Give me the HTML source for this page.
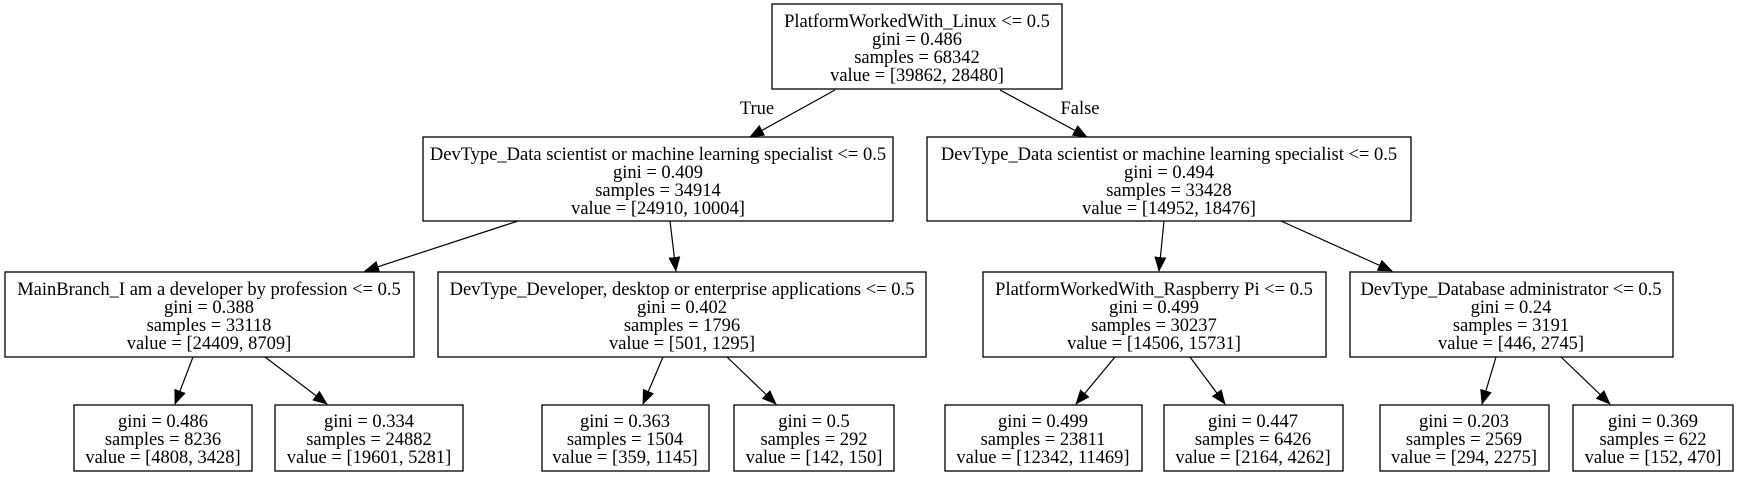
<!DOCTYPE html>
<html><head><meta charset="utf-8"><style>
html,body{margin:0;padding:0;background:#fff;}
svg{display:block}
text{font-family:"Liberation Serif",serif;font-size:18.5px;fill:#000;text-anchor:middle}
rect{fill:#fff;stroke:#000;stroke-width:1.3}
line{stroke:#000;stroke-width:1.2}
polygon{fill:#000}
</style></head><body>
<svg width="1739" height="477" viewBox="0 0 1739 477" xmlns="http://www.w3.org/2000/svg">
<defs><marker id="a" markerWidth="15" markerHeight="12" refX="14" refY="6" orient="auto" markerUnits="userSpaceOnUse"><polygon points="0,0 15,6 0,12"/></marker></defs>
<line x1="835" y1="90" x2="750" y2="137" marker-end="url(#a)"/>
<line x1="1000" y1="90" x2="1087" y2="137" marker-end="url(#a)"/>
<line x1="518" y1="221" x2="365" y2="271" marker-end="url(#a)"/>
<line x1="670" y1="221" x2="676" y2="271" marker-end="url(#a)"/>
<line x1="1164" y1="221" x2="1159" y2="271" marker-end="url(#a)"/>
<line x1="1281" y1="221" x2="1392" y2="271" marker-end="url(#a)"/>
<line x1="193" y1="357" x2="175" y2="404" marker-end="url(#a)"/>
<line x1="265" y1="357" x2="327" y2="404" marker-end="url(#a)"/>
<line x1="663" y1="357" x2="643" y2="404" marker-end="url(#a)"/>
<line x1="727" y1="357" x2="776" y2="404" marker-end="url(#a)"/>
<line x1="1115" y1="357" x2="1076" y2="404" marker-end="url(#a)"/>
<line x1="1190" y1="357" x2="1225" y2="404" marker-end="url(#a)"/>
<line x1="1496" y1="357" x2="1482" y2="404" marker-end="url(#a)"/>
<line x1="1561" y1="357" x2="1610" y2="404" marker-end="url(#a)"/>
<text x="757" y="114">True</text>
<text x="1080" y="114">False</text>
<rect x="772" y="4" width="290" height="85"/>
<text x="917" y="27">PlatformWorkedWith_Linux &lt;= 0.5</text>
<text x="917" y="45">gini = 0.486</text>
<text x="917" y="63">samples = 68342</text>
<text x="917" y="81">value = [39862, 28480]</text>
<rect x="423" y="137" width="470" height="84"/>
<text x="658" y="160">DevType_Data scientist or machine learning specialist &lt;= 0.5</text>
<text x="658" y="178">gini = 0.409</text>
<text x="658" y="196">samples = 34914</text>
<text x="658" y="214">value = [24910, 10004]</text>
<rect x="927" y="137" width="484" height="84"/>
<text x="1169" y="160">DevType_Data scientist or machine learning specialist &lt;= 0.5</text>
<text x="1169" y="178">gini = 0.494</text>
<text x="1169" y="196">samples = 33428</text>
<text x="1169" y="214">value = [14952, 18476]</text>
<rect x="5" y="272" width="409" height="85"/>
<text x="209" y="295">MainBranch_I am a developer by profession &lt;= 0.5</text>
<text x="209" y="313">gini = 0.388</text>
<text x="209" y="331">samples = 33118</text>
<text x="209" y="349">value = [24409, 8709]</text>
<rect x="438" y="272" width="488" height="85"/>
<text x="682" y="295">DevType_Developer, desktop or enterprise applications &lt;= 0.5</text>
<text x="682" y="313">gini = 0.402</text>
<text x="682" y="331">samples = 1796</text>
<text x="682" y="349">value = [501, 1295]</text>
<rect x="983" y="272" width="343" height="85"/>
<text x="1154" y="295">PlatformWorkedWith_Raspberry Pi &lt;= 0.5</text>
<text x="1154" y="313">gini = 0.499</text>
<text x="1154" y="331">samples = 30237</text>
<text x="1154" y="349">value = [14506, 15731]</text>
<rect x="1350" y="272" width="323" height="85"/>
<text x="1511" y="295">DevType_Database administrator &lt;= 0.5</text>
<text x="1511" y="313">gini = 0.24</text>
<text x="1511" y="331">samples = 3191</text>
<text x="1511" y="349">value = [446, 2745]</text>
<rect x="74" y="405" width="178" height="66"/>
<text x="163" y="427">gini = 0.486</text><text x="163" y="445">samples = 8236</text><text x="163" y="463">value = [4808, 3428]</text>
<rect x="275" y="405" width="188" height="66"/>
<text x="369" y="427">gini = 0.334</text><text x="369" y="445">samples = 24882</text><text x="369" y="463">value = [19601, 5281]</text>
<rect x="542" y="405" width="167" height="66"/>
<text x="625" y="427">gini = 0.363</text><text x="625" y="445">samples = 1504</text><text x="625" y="463">value = [359, 1145]</text>
<rect x="734" y="405" width="160" height="66"/>
<text x="814" y="427">gini = 0.5</text><text x="814" y="445">samples = 292</text><text x="814" y="463">value = [142, 150]</text>
<rect x="945" y="405" width="197" height="66"/>
<text x="1043" y="427">gini = 0.499</text><text x="1043" y="445">samples = 23811</text><text x="1043" y="463">value = [12342, 11469]</text>
<rect x="1164" y="405" width="179" height="66"/>
<text x="1253" y="427">gini = 0.447</text><text x="1253" y="445">samples = 6426</text><text x="1253" y="463">value = [2164, 4262]</text>
<rect x="1380" y="405" width="169" height="66"/>
<text x="1464" y="427">gini = 0.203</text><text x="1464" y="445">samples = 2569</text><text x="1464" y="463">value = [294, 2275]</text>
<rect x="1573" y="405" width="160" height="66"/>
<text x="1653" y="427">gini = 0.369</text><text x="1653" y="445">samples = 622</text><text x="1653" y="463">value = [152, 470]</text>
</svg>
</body></html>
